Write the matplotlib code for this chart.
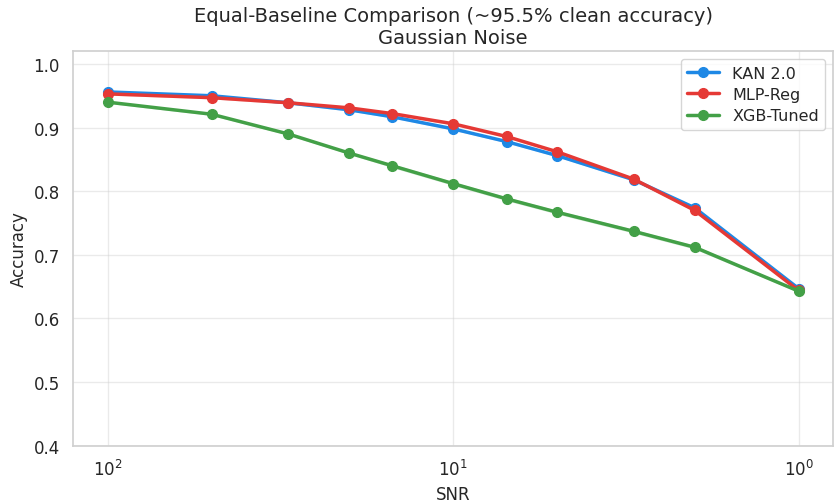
import numpy as np
import matplotlib.pyplot as plt
import seaborn as sns

sns.set_theme(style="whitegrid")
plt.rcParams['font.family'] = ['DejaVu Sans']

# SNR levels and mean accuracy per model
snr = [100, 50, 30, 20, 15, 10, 7, 5, 3, 2, 1]
kan_acc = [0.956, 0.950, 0.939, 0.928, 0.917, 0.898, 0.878, 0.856, 0.818, 0.774, 0.647]
mlp_acc = [0.953, 0.947, 0.939, 0.931, 0.922, 0.906, 0.886, 0.862, 0.819, 0.770, 0.644]
xgb_acc = [0.940, 0.921, 0.890, 0.860, 0.840, 0.812, 0.788, 0.767, 0.737, 0.712, 0.643]
# spread across runs (small)
kan_std = [0.002, 0.002, 0.002, 0.002, 0.002, 0.002, 0.002, 0.002, 0.002, 0.002, 0.002]
mlp_std = [0.002, 0.002, 0.002, 0.002, 0.002, 0.002, 0.002, 0.002, 0.002, 0.002, 0.002]
xgb_std = [0.002, 0.002, 0.002, 0.002, 0.003, 0.003, 0.003, 0.003, 0.003, 0.003, 0.002]

models = ["KAN 2.0", "MLP-Reg", "XGB-Tuned"]
colors = ["#1E88E5", "#E53935", "#43A047"]

fig, ax = plt.subplots(figsize=(8.34, 5.02), dpi=100)
fig.subplots_adjust(left=0.0875, right=0.999, top=0.896, bottom=0.11)

for name, acc, std, c in zip(models, [kan_acc, mlp_acc, xgb_acc],
                             [kan_std, mlp_std, xgb_std], colors):
    acc = np.array(acc)
    std = np.array(std)
    ax.plot(snr, acc, marker='o', color=c, label=name, linewidth=2.5, markersize=7)
    ax.fill_between(snr, acc - std, acc + std, color=c, alpha=0.2, linewidth=0)

ax.set_xscale('log')
ax.invert_xaxis()
ax.set_ylim(0.4, 1.02)
ax.grid(True, alpha=0.4)
for s in ax.spines.values():
    s.set_color('#d0d0d0')
ax.set_xlabel("SNR", fontsize=12)
ax.set_ylabel("Accuracy", fontsize=12)
ax.set_title("Equal-Baseline Comparison (~95.5% clean accuracy)\nGaussian Noise", fontsize=14)
ax.tick_params(labelsize=12)
ax.legend(loc='upper right', fontsize=11.5, labelspacing=0.4)

fig.savefig("out.png", dpi=100)
